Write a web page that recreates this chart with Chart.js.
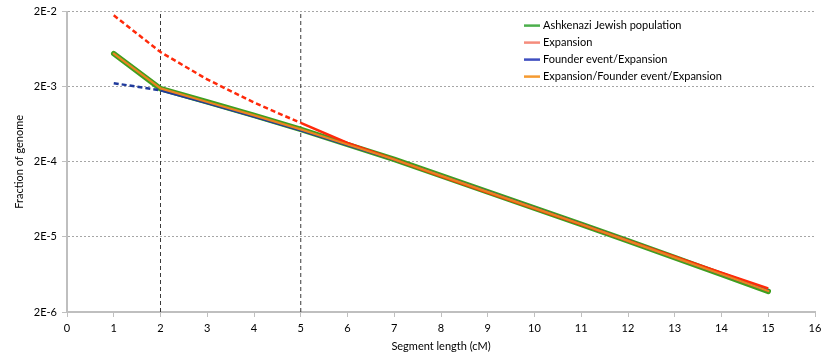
<!DOCTYPE html>
<html>
<head>
<meta charset="utf-8">
<script src="https://cdn.jsdelivr.net/npm/chart.js@4/dist/chart.umd.min.js"></script>
<style>
  html, body { margin: 0; padding: 0; background: #ffffff; }
  #wrap { width: 830px; height: 364px; }
</style>
</head>
<body>
<div id="wrap"><canvas id="c" width="830" height="364"></canvas></div>
<script>
// ---- data ----
const segmentLengths = [1, 2, 3, 4, 5, 6, 7, 8, 9, 10, 11, 12, 13, 14, 15];
const seriesNames = ['Ashkenazi Jewish population', 'Expansion', 'Founder event/Expansion', 'Expansion/Founder event/Expansion'];
const ashkenazi = [5.51e-3, 1.88e-3, 1.254e-3, 8.29e-4, 5.39e-4, 3.40e-4, 2.15e-4, 1.31e-4, 7.96e-5, 4.83e-5, 2.94e-5, 1.77e-5, 1.06e-5, 6.32e-6, 3.77e-6];
const expansion = [1.785e-2, 5.78e-3, 2.50e-3, 1.23e-3, 6.58e-4, 3.56e-4, 2.15e-4, 1.28e-4, 7.8e-5, 4.77e-5, 2.92e-5, 1.78e-5, 1.09e-5, 6.7e-6, 4.13e-6];
const founderExpansion = [2.23e-3, 1.79e-3, 1.21e-3, 8.0e-4, 5.25e-4, 3.35e-4, 2.14e-4, 1.31e-4, 8.0e-5, 4.85e-5, 2.95e-5, 1.78e-5, 1.07e-5, 6.4e-6, 3.85e-6];
const expFounderExp = [5.5e-3, 1.9e-3, 1.25e-3, 8.3e-4, 5.4e-4, 3.4e-4, 2.15e-4, 1.31e-4, 7.95e-5, 4.83e-5, 2.94e-5, 1.77e-5, 1.06e-5, 6.35e-6, 3.8e-6];
const expansionDashedUntil = 5;
const founderDashedUntil = 2;
const markerLengths = [2, 5];
const yTickValues = [2e-6, 2e-5, 2e-4, 2e-3, 2e-2];
const yTickLabels = ['2E-6', '2E-5', '2E-4', '2E-3', '2E-2'];
const xMin = 0, xMax = 16;
const xTitle = 'Segment length (cM)';
const yTitle = 'Fraction of genome';

// ---- build ----
const pts = vals => segmentLengths.map((x, i) => ({ x: x, y: vals[i] }));
const yLo = yTickValues[0], yHi = yTickValues[yTickValues.length - 1];

const colors = {
  green: '#3f9f1f', red: '#ff2a0a', blue: '#1f3a9c', orange: '#ea8420'
};
const legendColors = ['#4caf4c', '#f58c7c', '#3f4fc0', '#f59a30'];
const textColor = '#000000';

const datasets = [
  { label: seriesNames[0], data: pts(ashkenazi), borderColor: colors.green, borderWidth: 5.5,
    borderCapStyle: 'round', borderJoinStyle: 'round', pointRadius: 0, order: 4 },
  { label: seriesNames[2], data: pts(founderExpansion), borderColor: colors.blue, borderWidth: 2.5,
    pointRadius: 0, order: 3,
    segment: { borderDash: ctx => segmentLengths[ctx.p1DataIndex] <= founderDashedUntil ? [5, 3] : [] } },
  { label: seriesNames[1], data: pts(expansion), borderColor: colors.red, borderWidth: 2.5,
    pointRadius: 0, order: 2,
    segment: { borderDash: ctx => segmentLengths[ctx.p1DataIndex] <= expansionDashedUntil ? [5, 3] : [] } },
  { label: seriesNames[3], data: pts(expFounderExp), borderColor: colors.orange, borderWidth: 2.2,
    borderCapStyle: 'round', borderJoinStyle: 'round', pointRadius: 0, order: 1 }
];
markerLengths.forEach(m => {
  datasets.push({ label: '', data: [{ x: m, y: yLo }, { x: m, y: yHi }], borderColor: '#3a3a3a',
    borderWidth: 1, borderDash: [4, 3], pointRadius: 0, order: 10 });
});

const legendPlugin = {
  id: 'insideLegend',
  afterDatasetsDraw(chart) {
    const { ctx, chartArea } = chart;
    const lineX0 = chartArea.right - 291, lineX1 = lineX0 + 16, textX = lineX1 + 3;
    const y0 = chartArea.top + 14, dy = 17;
    ctx.save();
    ctx.font = '11px Lato';
    ctx.textBaseline = 'middle';
    ctx.textAlign = 'left';
    seriesNames.forEach((name, i) => {
      const y = y0 + i * dy;
      ctx.strokeStyle = legendColors[i];
      ctx.lineWidth = 2.5;
      ctx.beginPath(); ctx.moveTo(lineX0, y); ctx.lineTo(lineX1, y); ctx.stroke();
      ctx.fillStyle = textColor;
      ctx.fillText(name, textX, y);
    });
    ctx.restore();
  }
};

Chart.defaults.font.family = 'Lato';
Chart.defaults.font.size = 11;
Chart.defaults.color = textColor;

new Chart(document.getElementById('c'), {
  type: 'line',
  data: { datasets: datasets },
  plugins: [legendPlugin],
  options: {
    responsive: false,
    animation: false,
    layout: { padding: { top: 11, right: 15, bottom: 0, left: 0 } },
    plugins: { legend: { display: false }, tooltip: { enabled: false } },
    scales: {
      x: {
        type: 'linear', min: xMin, max: xMax,
        ticks: { stepSize: 1, padding: 5, color: textColor, font: { size: 11 } },
        grid: { drawOnChartArea: false, drawTicks: true, tickLength: 5, color: '#bfbfbf', lineWidth: 1 },
        border: { display: true, color: '#bfbfbf', width: 2 },
        title: { display: true, text: xTitle, font: { size: 11 }, color: textColor, padding: { top: 0, bottom: 11 } },
        afterFit: s => { s.height = 52; }
      },
      y: {
        type: 'logarithmic', min: yLo, max: yHi,
        afterBuildTicks: s => { s.ticks = yTickValues.map(v => ({ value: v })); },
        ticks: {
          padding: 5, color: textColor, font: { size: 11 },
          callback: (v) => { const i = yTickValues.findIndex(t => Math.abs(t - v) / t < 1e-6); return i >= 0 ? yTickLabels[i] : ''; }
        },
        grid: { color: '#a6a6a6', lineWidth: 1, tickLength: 5, tickColor: '#bfbfbf', tickBorderDash: [] },
        border: { display: true, color: '#bfbfbf', width: 2, dash: [2, 2] },
        title: { display: true, text: yTitle, font: { size: 11 }, color: textColor, padding: { top: 13, bottom: 0 } },
        afterFit: s => { s.width = 67; }
      }
    }
  }
});
</script>
</body>
</html>
